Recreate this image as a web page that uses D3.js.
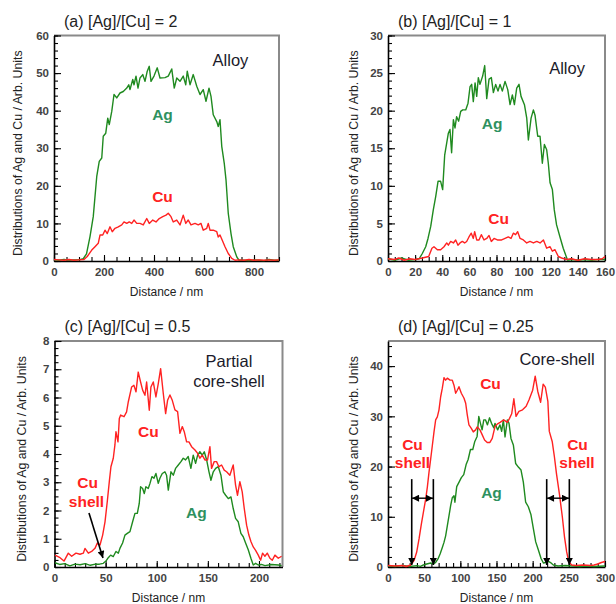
<!DOCTYPE html>
<html>
<head>
<meta charset="utf-8">
<script src="https://cdn.jsdelivr.net/npm/d3@7"></script>
<style>
  body { margin: 0; background: #fff; }
  svg { display: block; font-family: "Liberation Sans", Arial, sans-serif; }
</style>
</head>
<body>
<div id="chart"></div>
<script>
// ---- data: [distance (nm), intensity] ----
const agA = [[0,0.3],[20,0.2],[40,0.4],[60,0.2],[80,0.3],[100,0.3],[117,0.6],[130,1.9],[144,6.5],[157,11.8],[171,22.5],[181,26.5],[191,27.4],[197,33.2],[207,34.0],[215,38.0],[221,36.3],[231,39.8],[240,44.3],[251,43.4],[264,44.7],[277,45.1],[291,46.0],[299,46.9],[304,45.6],[315,48.3],[320,46.9],[328,49.2],[336,46.0],[344,48.7],[355,49.6],[364,47.8],[373,50.5],[381,51.8],[388,47.8],[400,49.2],[413,51.4],[424,48.7],[444,48.8],[457,49.2],[471,51.1],[481,46.0],[491,48.7],[504,47.8],[517,49.2],[527,46.9],[533,50.5],[544,46.9],[557,49.6],[571,46.5],[584,44.3],[597,45.6],[608,42.5],[620,46.0],[628,43.8],[637,38.9],[651,37.1],[657,35.8],[664,37.6],[671,30.5],[681,26.0],[688,21.6],[697,12.7],[708,7.3],[717,3.8],[731,1.1],[740,0.2],[760,0.2],[780,0.1],[800,0.3],[820,0.2],[840,0.1],[860,0.4],[880,0.2],[900,0.2]];
const cuA = [[0,0.4],[20,0.3],[40,0.2],[60,0.4],[80,0.2],[100,0.3],[120,0.4],[133,1.2],[151,2.9],[164,3.8],[177,4.7],[184,6.9],[195,6.9],[204,8.2],[213,7.3],[224,9.1],[233,7.8],[244,8.7],[257,9.1],[271,9.6],[280,10.4],[291,10.0],[301,10.4],[311,10.0],[320,10.9],[331,10.0],[344,10.0],[357,9.6],[371,11.3],[381,10.0],[395,10.9],[408,10.4],[421,11.3],[435,11.8],[448,12.2],[457,12.7],[468,11.8],[477,10.4],[491,10.9],[504,9.6],[517,12.2],[527,10.0],[537,10.9],[548,9.6],[564,10.0],[577,9.6],[588,10.0],[597,8.2],[611,8.7],[617,10.0],[624,8.2],[637,8.2],[651,7.8],[657,6.4],[664,6.9],[673,5.5],[684,3.8],[697,2.0],[711,0.7],[724,0.2],[740,0.3],[760,0.2],[780,0.4],[800,0.2],[820,0.3],[840,0.2],[860,0.3],[880,0.2],[900,0.3]];

const agB = [[0,0.3],[5,0.1],[10,0.4],[15,0.1],[20,0.2],[23,0.3],[25.3,1.0],[27.8,1.9],[29.5,3.0],[31.5,4.6],[33.4,6.8],[35.2,8.6],[36.9,10.6],[38.8,10.6],[40.3,9.5],[41.8,14.1],[43.3,15.7],[44.5,17.0],[45.7,17.5],[46.9,14.4],[48.2,18.8],[49.4,17.7],[50.6,19.2],[52.1,18.6],[53.6,19.9],[55.1,20.1],[57.3,20.1],[59.0,21.0],[60.5,23.2],[61.7,23.5],[62.9,21.2],[64.2,23.7],[65.4,21.9],[66.6,24.4],[67.8,23.5],[69.8,24.6],[71.3,26.0],[72.8,21.6],[74.5,24.2],[76.2,24.4],[77.7,22.4],[79.4,23.5],[81.1,22.6],[82.6,23.5],[84.3,22.6],[86.3,23.9],[88.3,22.8],[90.0,20.8],[91.7,22.1],[93.2,20.8],[94.9,23.0],[96.6,23.5],[98.1,21.9],[100.6,20.8],[102.3,19.0],[103.5,16.1],[105.5,19.0],[107.2,20.1],[108.4,19.4],[110.4,16.6],[112.1,16.6],[113.8,13.0],[115.3,15.5],[117.0,14.8],[118.2,13.0],[119.5,10.4],[121.2,9.5],[122.6,6.8],[124.3,4.8],[126.8,3.2],[129.2,1.7],[131.0,0.8],[132.4,0.1],[136,0.2],[140,0.1],[145,0.2],[150,0.1],[155,0.2],[160,0.2]];
const cuB = [[0,0.3],[5,0.2],[8,0.4],[12,0.1],[16,0.3],[20,0.2],[25.3,0.4],[30.0,0.6],[32.4,1.7],[33.9,1.9],[36.4,1.5],[38.8,1.5],[41.3,1.9],[43.3,2.4],[44.5,2.1],[46.2,2.6],[48.2,2.4],[49.9,2.8],[51.6,2.1],[53.1,2.4],[54.8,2.6],[56.5,2.4],[58.0,2.6],[59.7,3.2],[61.4,3.7],[62.9,3.0],[63.9,3.9],[65.4,2.8],[67.1,2.8],[68.8,3.5],[70.8,2.8],[72.8,3.0],[74.5,3.4],[76.2,2.6],[78.2,3.0],[80.6,2.8],[83.8,2.8],[86.3,3.0],[88.7,3.2],[90.7,3.0],[92.4,3.7],[94.1,3.5],[95.6,3.9],[97.4,3.0],[99.8,2.8],[102.3,2.4],[104.7,2.6],[107.2,2.4],[109.7,2.6],[112.1,2.4],[114.6,2.8],[117.0,1.7],[119.5,1.9],[121.2,1.3],[123.1,1.5],[125.6,0.6],[128.0,0.4],[131.7,0.2],[135,0.3],[140,0.1],[145,0.3],[150,0.2],[155,0.2],[158,0.3],[160,0.6]];

const agC = [[0.5,0.15],[5,0.09],[10,0.12],[15,0.04],[20,0.1],[25,0.08],[30,0.12],[35,0.06],[40,0.1],[44,0.1],[47.7,0.13],[50.3,0.21],[52.6,0.33],[54.9,0.42],[57.5,0.37],[60.1,0.55],[62.4,0.49],[64.0,0.66],[66.6,0.85],[68.9,1.13],[71.2,1.19],[73.8,1.25],[76.4,1.6],[78.7,1.9],[81.0,1.9],[82.9,2.25],[84.2,2.84],[86.2,2.78],[87.8,2.6],[89.4,2.84],[91.7,2.78],[93.4,2.96],[95.3,3.2],[97.3,3.14],[99.2,3.31],[101.5,2.96],[103.1,3.14],[105.4,3.31],[108.0,3.37],[109.6,3.25],[111.3,2.72],[113.9,3.37],[116.2,3.25],[118.4,3.49],[121.1,3.61],[123.7,3.73],[125.9,3.85],[128.2,3.79],[130.8,3.91],[133.4,3.49],[135.7,3.96],[138.0,3.67],[140.0,3.96],[142.2,4.08],[144.5,3.96],[146.5,4.08],[148.8,3.79],[151.1,3.37],[153.0,3.07],[155.3,3.37],[157.6,3.49],[160.2,3.55],[162.8,3.25],[165.1,2.66],[167.4,2.54],[170.0,2.42],[172.6,2.48],[174.8,2.07],[177.1,1.72],[179.7,1.6],[182.3,1.19],[184.6,1.07],[186.9,0.85],[189.5,0.61],[192.1,0.31],[194.4,0.07],[196.7,0.13],[199.3,0.07],[202.5,0.09],[205.8,0.05],[212.3,0.09],[218.9,0.07],[222.1,0.05]];
const cuC = [[0.5,0.42],[5.4,0.33],[9.3,0.21],[13.5,0.49],[16.8,0.38],[21.0,0.49],[24.9,0.45],[28.2,0.49],[29.8,0.66],[33.1,0.49],[36.3,0.55],[39.6,0.66],[41.9,0.85],[44.5,0.78],[47.1,1.13],[49.4,1.6],[51.6,2.31],[53.6,3.02],[55.2,3.55],[57.5,3.85],[59.1,4.32],[60.1,4.79],[62.1,4.43],[63.4,5.26],[64.7,5.38],[68.0,5.32],[70.5,5.49],[72.2,5.85],[75.4,6.37],[77.7,6.43],[79.7,6.2],[81.9,6.9],[84.2,6.55],[86.2,6.26],[88.5,6.08],[90.1,6.55],[92.7,5.55],[94.3,6.37],[96.6,6.55],[99.2,6.02],[101.5,6.49],[103.8,7.02],[106.4,6.14],[108.7,5.43],[110.6,5.9],[112.9,6.09],[115.2,5.9],[117.8,5.56],[120.4,5.5],[122.7,4.73],[125.0,4.97],[126.9,4.79],[129.2,4.43],[131.5,4.43],[134.1,4.26],[137.4,4.14],[140.0,4.02],[142.2,3.85],[144.5,3.96],[147.1,3.79],[149.7,3.79],[152.0,4.26],[153.6,3.49],[156.2,3.73],[158.5,3.73],[160.8,3.55],[163.4,3.61],[166.0,3.43],[168.3,3.37],[171.5,3.25],[174.8,3.61],[177.1,2.9],[179.0,2.54],[181.3,3.02],[183.6,2.66],[185.6,2.07],[187.9,1.48],[190.1,1.13],[192.1,0.9],[194.4,0.71],[196.7,0.59],[199.3,0.42],[201.6,0.24],[203.5,0.49],[205.8,0.38],[208.1,0.49],[210.7,0.31],[213.0,0.24],[215.6,0.42],[218.9,0.31],[222.1,0.38]];

const agD = [[0,0.2],[10,0.1],[20,0.3],[30,0.1],[40,0.27],[44.9,0.13],[48.9,0.4],[53.5,0.6],[59,0.8],[62.7,0.6],[65.9,0.93],[69.1,1.6],[72,2.6],[75.1,3.9],[77.4,4.9],[79.7,6.2],[82,8.2],[84.3,10.2],[86.6,12.2],[88.9,13.8],[91.2,14.2],[92.5,12.9],[95,16.0],[98.6,17.0],[101.4,17.8],[104.7,18.4],[108,20.4],[110.8,21.4],[114,23.4],[117.2,23.4],[120,25.0],[123.2,26.0],[125.5,30.0],[127.8,28.6],[130.1,27.3],[132.4,29.3],[134.7,29.3],[137.5,28.3],[140.3,29.7],[143.1,28.6],[146.3,27.7],[147.9,28.6],[151.6,27.3],[154.8,28.3],[157.1,27.0],[159.5,29.3],[161.8,25.9],[165.0,29.3],[167.3,28.6],[170.0,25.6],[173.3,24.3],[176.5,20.6],[180.2,19.9],[183.9,19.3],[187.1,16.9],[190.3,12.9],[194.0,12.0],[197.7,10.4],[200.9,7.7],[204.2,5.0],[207.9,3.4],[211.6,1.7],[214.8,0.8],[218,0.9],[221.7,1.1],[225.4,0.8],[228.6,0.4],[235,0.2],[245,0.3],[255,0.2],[265,0.1],[275,0.2],[285,0.1],[300,0.2]];
const cuD = [[0,0.3],[10,0.2],[20,0.3],[25,0.1],[31.3,0.4],[35.9,1.26],[39.6,2.92],[42.9,5.58],[46.1,8.55],[48.9,10.9],[52.1,13.5],[54.4,15.9],[56.7,18.9],[59.0,21.5],[61.3,24.2],[63.6,26.9],[65.9,29.3],[68.2,29.9],[70.5,31.3],[72.8,33.9],[75.1,35.6],[77.4,37.7],[79.7,37.2],[82.0,37.6],[85.7,37.2],[88.9,37.2],[91.2,36.2],[93.5,34.6],[95.8,35.2],[98.1,35.9],[101.4,34.6],[105.1,33.6],[107.4,32.6],[109.6,30.3],[111.9,28.3],[115.2,27.6],[117.9,26.9],[121.1,27.3],[123.4,27.9],[127.1,27.3],[130.3,26.3],[133.5,25.3],[137.2,24.8],[140.9,24.8],[144.1,25.6],[148,28.0],[151.5,28.5],[155,28.8],[160,29.3],[165,28.8],[168,29.6],[171,30.5],[174,33.5],[177,30.0],[181,31.0],[186,31.3],[191,32.0],[195,33.3],[200,35.2],[203.5,38.0],[207,35.0],[211,32.8],[214.5,36.4],[217.5,35.8],[221,33.0],[223,27.0],[227,25.0],[230,22.0],[233,18.5],[237,14.5],[241,10.0],[244,6.0],[247,3.0],[250,1.0],[254,0.4],[260,0.3],[270,0.4],[280,0.3],[285,0.4],[290,0.6],[295,0.9],[300,1.1]];

// shell-thickness markers in (d): [x, yTop, yBottom] and the span arrows [x1, x2, y]
const shellLinesD = [[32.8,17.5,0.4],[62.7,17.5,0.4],[219.4,17.5,0.4],[250.7,17.5,0.4]];
const shellSpansD = [[33.3,62.2,13.7],[219.9,250.2,13.7]];
const shellArrowC = [[33.7,1.91],[47.4,0.32]];

const titles = ["(a) [Ag]/[Cu] = 2", "(b) [Ag]/[Cu] = 1", "(c) [Ag]/[Cu] = 0.5", "(d) [Ag]/[Cu] = 0.25"];
const yTitle = "Distributions of Ag and Cu / Arb. Units";
const xTitle = "Distance / nm";

const GREEN = "#1f8a1f", RED = "#ff2222", AGTXT = "#2e9160", INK = "#1a1a2a";

const svg = d3.select("#chart").append("svg")
  .attr("width", 616).attr("height", 604)
  .style("background", "#fff");

const defs = svg.append("defs");
defs.append("marker")
  .attr("id", "arrow")
  .attr("viewBox", "0 0 10 10")
  .attr("refX", 10).attr("refY", 5)
  .attr("markerWidth", 8).attr("markerHeight", 7)
  .attr("markerUnits", "userSpaceOnUse")
  .attr("orient", "auto-start-reverse")
  .append("path").attr("d", "M0,0L10,5L0,10z").attr("fill", "#000");

function drawPanel(p) {
  const x = d3.scaleLinear().domain(p.xDomain).range([p.left, p.right]);
  const y = d3.scaleLinear().domain(p.yDomain).range([p.bottom, p.top]);
  const g = svg.append("g");

  // top / right frame
  g.append("path")
    .attr("d", `M${p.left},${p.top}H${p.right}V${p.bottom}`)
    .attr("fill", "none").attr("stroke", "#8a8a8a").attr("stroke-width", 2);

  // minor ticks (inward)
  const xMinor = d3.range(p.xDomain[0], p.xMax + 1e-6, p.xMinor);
  const yMinor = d3.range(p.yDomain[0], p.yDomain[1] + 1e-6, p.yMinor);
  g.append("g").attr("transform", `translate(0,${p.bottom})`)
    .call(d3.axisBottom(x).tickValues(xMinor).tickSize(-4).tickSizeOuter(0).tickFormat(""))
    .call(a => a.select(".domain").remove());
  g.append("g").attr("transform", `translate(${p.left},0)`)
    .call(d3.axisLeft(y).tickValues(yMinor).tickSize(-4).tickSizeOuter(0).tickFormat(""))
    .call(a => a.select(".domain").remove());

  // major ticks + labels
  const xMajor = d3.range(p.xDomain[0], p.xMax + 1e-6, p.xMajor);
  const yMajor = d3.range(p.yDomain[0], p.yLabelMax + 1e-6, p.yMajor);
  const xa = g.append("g").attr("transform", `translate(0,${p.bottom})`)
    .call(d3.axisBottom(x).tickValues(xMajor).tickSize(-6).tickSizeOuter(0).tickPadding(7));
  const ya = g.append("g").attr("transform", `translate(${p.left},0)`)
    .call(d3.axisLeft(y).tickValues(yMajor).tickSize(-7).tickSizeOuter(0).tickPadding(5));
  [xa, ya].forEach(a => {
    a.select(".domain").attr("stroke", "#000").attr("stroke-width", 1.6);
    a.selectAll(".tick line").attr("stroke", "#000");
    a.selectAll("text").attr("font-size", 11.5).attr("font-weight", "bold")
      .attr("fill", "#444").attr("font-family", "Liberation Sans, Arial, sans-serif");
  });
  g.selectAll(".tick line").attr("stroke", "#000").attr("stroke-width", 1.1);

  // curves
  const line = d3.line().x(d => x(d[0])).y(d => y(d[1]));
  g.append("path").datum(p.ag).attr("d", line)
    .attr("fill", "none").attr("stroke", GREEN).attr("stroke-width", 1.4).attr("stroke-linejoin", "round");
  g.append("path").datum(p.cu).attr("d", line)
    .attr("fill", "none").attr("stroke", RED).attr("stroke-width", 1.4).attr("stroke-linejoin", "round");

  // titles
  g.append("text").attr("x", p.left + 10).attr("y", p.top - 9)
    .attr("font-size", 16).attr("fill", "#222").text(p.title);
  g.append("text").attr("x", (p.left + p.right) / 2).attr("y", p.bottom + 35)
    .attr("text-anchor", "middle").attr("font-size", 12).attr("fill", "#222").text(xTitle);
  g.append("text")
    .attr("transform", `translate(${p.yTitleX},${(p.top + p.bottom) / 2 + 5}) rotate(-90)`)
    .attr("text-anchor", "middle").attr("font-size", 12.3).attr("fill", "#222").text(yTitle);

  // in-plot labels
  p.labels.forEach(l => {
    g.append("text").attr("x", x(l.at[0])).attr("y", y(l.at[1]))
      .attr("text-anchor", "middle")
      .attr("font-size", l.bold ? 15.5 : 16.5)
      .attr("font-weight", l.bold ? "bold" : "normal")
      .attr("fill", l.color).text(l.text);
  });

  return { x, y, g };
}

const pa = drawPanel({
  left: 54, right: 279, top: 35.5, bottom: 261, yTitleX: 22,
  xDomain: [0, 900], xMax: 900, xMajor: 200, xMinor: 50,
  yDomain: [0, 60], yLabelMax: 60, yMajor: 10, yMinor: 2,
  ag: agA, cu: cuA, title: titles[0],
  labels: [
    { text: "Alloy", at: [706, 52], color: INK },
    { text: "Ag", at: [434, 37.6], color: AGTXT, bold: true },
    { text: "Cu", at: [434, 15.7], color: RED, bold: true }
  ]
});

const pb = drawPanel({
  left: 388, right: 605, top: 35.5, bottom: 261, yTitleX: 358,
  xDomain: [0, 160], xMax: 160, xMajor: 20, xMinor: 5,
  yDomain: [0, 30], yLabelMax: 30, yMajor: 5, yMinor: 1,
  ag: agB, cu: cuB, title: titles[1],
  labels: [
    { text: "Alloy", at: [132, 24.9], color: INK },
    { text: "Ag", at: [76.7, 17.6], color: AGTXT, bold: true },
    { text: "Cu", at: [81.5, 4.9], color: RED, bold: true }
  ]
});

const pc = drawPanel({
  left: 54.5, right: 282.5, top: 341, bottom: 567, yTitleX: 26,
  xDomain: [0, 223], xMax: 220, xMajor: 50, xMinor: 10,
  yDomain: [0, 8], yLabelMax: 8, yMajor: 1, yMinor: 0.25,
  ag: agC, cu: cuC, title: titles[2],
  labels: [
    { text: "Partial", at: [170.6, 7.08], color: INK },
    { text: "core-shell", at: [170.6, 6.37], color: INK },
    { text: "Cu", at: [91.9, 4.6], color: RED, bold: true },
    { text: "Cu", at: [32.3, 2.8], color: RED, bold: true },
    { text: "shell", at: [31.3, 2.12], color: RED, bold: true },
    { text: "Ag", at: [138.8, 1.73], color: AGTXT, bold: true }
  ]
});

const pd = drawPanel({
  left: 388, right: 605, top: 341, bottom: 567, yTitleX: 358,
  xDomain: [0, 300], xMax: 300, xMajor: 50, xMinor: 10,
  yDomain: [0, 45], yLabelMax: 40, yMajor: 10, yMinor: 2,
  ag: agD, cu: cuD, title: titles[3],
  labels: [
    { text: "Core-shell", at: [233.7, 40.2], color: INK },
    { text: "Cu", at: [141.7, 35.4], color: RED, bold: true },
    { text: "Ag", at: [143.1, 13.7], color: AGTXT, bold: true },
    { text: "Cu", at: [33.9, 23.3], color: RED, bold: true },
    { text: "shell", at: [33.9, 19.7], color: RED, bold: true },
    { text: "Cu", at: [262, 23.3], color: RED, bold: true },
    { text: "shell", at: [261.3, 19.7], color: RED, bold: true }
  ]
});

// arrow in (c)
pc.g.append("line")
  .attr("x1", pc.x(shellArrowC[0][0])).attr("y1", pc.y(shellArrowC[0][1]))
  .attr("x2", pc.x(shellArrowC[1][0])).attr("y2", pc.y(shellArrowC[1][1]))
  .attr("stroke", "#000").attr("stroke-width", 1.6).attr("marker-end", "url(#arrow)");

// shell markers in (d)
pd.g.selectAll(".shell-line").data(shellLinesD).join("line")
  .attr("class", "shell-line")
  .attr("x1", d => pd.x(d[0])).attr("x2", d => pd.x(d[0]))
  .attr("y1", d => pd.y(d[1])).attr("y2", d => pd.y(d[2]))
  .attr("stroke", "#000").attr("stroke-width", 1.6).attr("marker-end", "url(#arrow)");
pd.g.selectAll(".shell-span").data(shellSpansD).join("line")
  .attr("class", "shell-span")
  .attr("x1", d => pd.x(d[0])).attr("x2", d => pd.x(d[1]))
  .attr("y1", d => pd.y(d[2])).attr("y2", d => pd.y(d[2]))
  .attr("stroke", "#000").attr("stroke-width", 1.4)
  .attr("marker-start", "url(#arrow)").attr("marker-end", "url(#arrow)");
</script>
</body>
</html>
